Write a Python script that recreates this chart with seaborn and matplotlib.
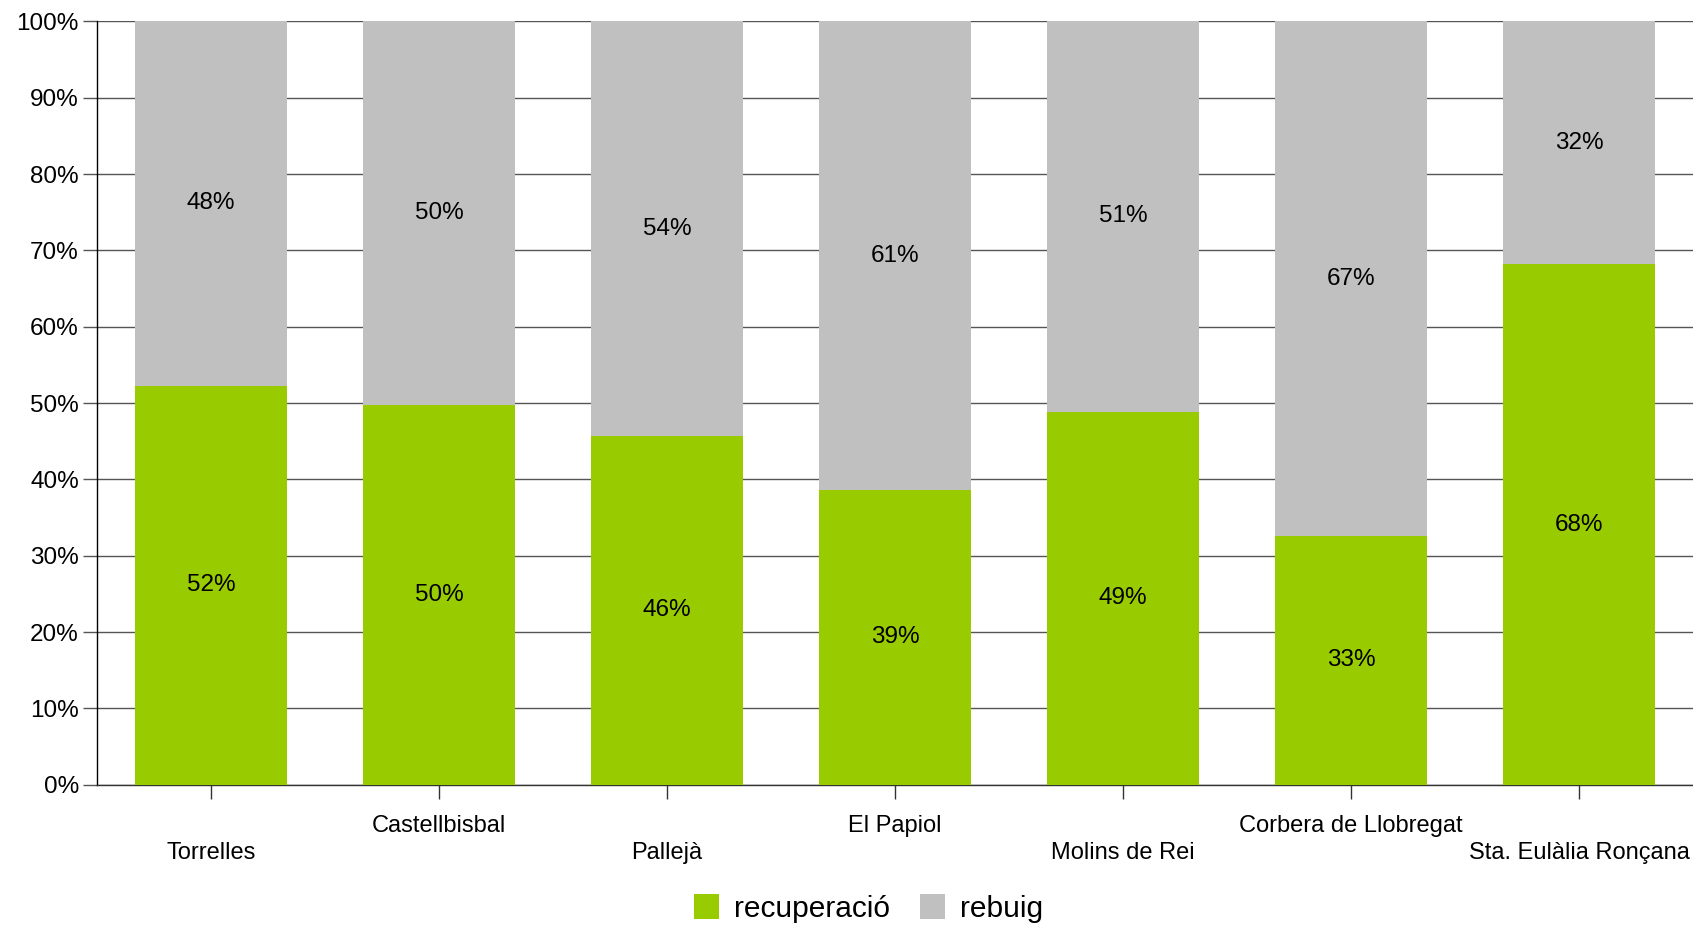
import numpy as np
import pandas as pd
import matplotlib
matplotlib.use('Agg')
import matplotlib.pyplot as plt
import seaborn as sns
from matplotlib.patches import Patch

municipis = ['Torrelles', 'Castellbisbal', 'Pallejà', 'El Papiol',
             'Molins de Rei', 'Corbera de Llobregat', 'Sta. Eulàlia Ronçana']
recuperacio = [52.3, 49.7, 45.7, 38.6, 48.9, 32.6, 68.2]
rebuig = [47.7, 50.3, 54.3, 61.4, 51.1, 67.4, 31.8]

verd = '#99CC00'
gris = '#C0C0C0'

sns.set_theme(style='white')
plt.rcParams['font.family'] = ['Liberation Sans', 'DejaVu Sans']
plt.rcParams['text.color'] = 'black'
plt.rcParams['xtick.color'] = 'black'
plt.rcParams['ytick.color'] = 'black'
plt.rcParams['xtick.labelcolor'] = 'black'
plt.rcParams['ytick.labelcolor'] = 'black'

data = pd.DataFrame({'municipi': municipis, 'recuperacio': recuperacio, 'rebuig': rebuig})
data['total'] = data['recuperacio'] + data['rebuig']

fig = plt.figure(figsize=(16.93, 9.31), dpi=100)
ax = fig.add_axes([0.0573, 0.157, 0.9427, 0.820])

sns.barplot(data=data, x='municipi', y='total', color=gris, width=0.67,
            saturation=1, linewidth=0, edgecolor='none', ax=ax, zorder=2)
sns.barplot(data=data, x='municipi', y='recuperacio', color=verd, width=0.67,
            saturation=1, linewidth=0, edgecolor='none', ax=ax, zorder=3)

# etiquetes dins de cada tram
for i, (r, b) in enumerate(zip(recuperacio, rebuig)):
    ax.text(i, r / 2, f'{r:.0f}%', ha='center', va='center', fontsize=17.5, color='black', zorder=4)
    ax.text(i, r + b / 2, f'{b:.0f}%', ha='center', va='center', fontsize=17.5, color='black', zorder=4)

ax.set_ylim(0, 100)
ax.set_xlim(-0.5, len(municipis) - 0.5)
ax.set_yticks(np.arange(0, 101, 10))
ax.set_yticklabels([f'{v}%' for v in range(0, 101, 10)], fontsize=17.5)
ax.yaxis.grid(True, color='#555555', linewidth=1, zorder=0)
ax.set_axisbelow(True)

etiquetes = [('\n' + m) if i % 2 == 0 else m for i, m in enumerate(municipis)]
ax.set_xticks(range(len(municipis)))
ax.set_xticklabels(etiquetes, fontsize=17, linespacing=1.3)
ax.tick_params(axis='x', bottom=True, length=10, width=1, color='#333333', direction='out', pad=12)
ax.tick_params(axis='y', left=True, length=10, width=1, color='#555555', direction='out', pad=3)
ax.set_xlabel('')
ax.set_ylabel('')

for s in ['top', 'right']:
    ax.spines[s].set_visible(False)
ax.spines['left'].set_color('black')
ax.spines['left'].set_linewidth(1)
ax.spines['bottom'].set_color('#333333')
ax.spines['bottom'].set_linewidth(1)

handles = [Patch(facecolor=verd, edgecolor='none', label='recuperació'),
           Patch(facecolor=gris, edgecolor='none', label='rebuig')]
fig.legend(handles=handles, loc='lower center', bbox_to_anchor=(0.513, -0.02), ncol=2,
           frameon=False, fontsize=21.5, handlelength=0.85, handleheight=0.9,
           handletextpad=0.5, columnspacing=1.0)

fig.savefig('out.png', dpi=100)
